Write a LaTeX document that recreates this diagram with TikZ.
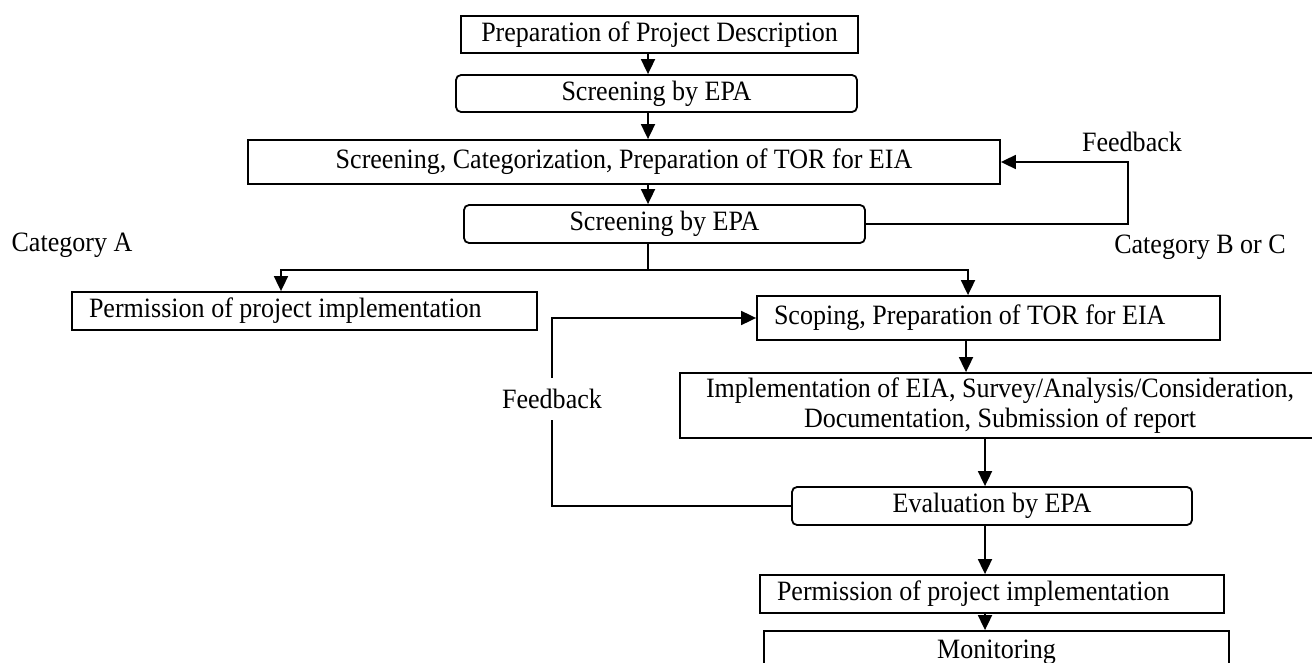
\documentclass[tikz,border=0pt]{standalone}
\usepackage{fontspec}
\setmainfont[FakeStretch=0.93]{Liberation Serif}
\usetikzlibrary{arrows.meta}
\tikzset{
  every node/.style={font=\fontsize{28}{30}\selectfont},
  boxc/.style={draw, line width=1.8pt, rectangle, inner sep=0pt, align=center},
  boxr/.style={boxc, rounded corners=5pt},
  boxl/.style={draw, line width=1.8pt, rectangle, inner ysep=0pt, inner xsep=17pt, align=flush left},
  conn/.style={line width=1.8pt},
  arr/.style={conn, -{Triangle[length=15pt,width=14pt]}},
  arrb/.style={conn, {Triangle[length=15pt,width=14pt]}-{Triangle[length=15pt,width=14pt]}},
  lbl/.style={inner sep=0pt}
}
\begin{document}
\begin{tikzpicture}[x=1pt,y=-1pt]
\useasboundingbox (0,0) rectangle (1312,663);
\fill[white] (0,0) rectangle (1312,663);
\clip (0,0) rectangle (1312,663);

% axes for connectors
\coordinate (ax1) at (648,0);
\coordinate (ax2) at (966,0);
\coordinate (ax3) at (985,0);
\coordinate (fbR) at (1128,0);
\coordinate (fbL) at (552,0);
\coordinate (br) at (648,270);
\coordinate (brL) at (281,270);
\coordinate (brR) at (968,270);

% boxes
\node[boxc, minimum width=397pt, minimum height=37pt] (p1) at (659.5,34.5) {Preparation of Project Description};
\node[boxr, minimum width=401pt, minimum height=37pt] (s1) at (656.5,93.5) {Screening by EPA};
\node[boxc, minimum width=752pt, minimum height=44pt] (sc) at (624,162) {Screening, Categorization, Preparation of TOR for EIA};
\node[boxr, minimum width=401pt, minimum height=38pt] (s2) at (664.5,224) {Screening by EPA};
\node[boxl, text width=431pt, minimum height=38pt] (pA) at (304.5,311) {Permission of project implementation};
\node[boxl, text width=429pt, minimum height=44pt] (sp) at (988.5,318) {Scoping, Preparation of TOR for EIA};
\node[boxc, minimum width=640pt, minimum height=65pt] (im) at (1000,405.5) {Implementation of EIA, Survey/Analysis/Consideration,\\Documentation, Submission of report};
\node[boxr, minimum width=400pt, minimum height=38pt] (ev) at (992,506) {Evaluation by EPA};
\node[boxl, text width=430pt, minimum height=38pt] (pB) at (992,594) {Permission of project implementation};
\node[boxc, minimum width=465pt, minimum height=42pt] (mo) at (996.5,652) {Monitoring};

% labels
\node[lbl] (fbtop) at (1132,142) {Feedback};
\node[lbl] (catA) at (72,245) {Category A};
\node[lbl] (catB) at (1200,247) {Category B or C};

% connectors
\draw[arr] (p1.south -| ax1) -- (s1.north -| ax1);
\draw[arr] (s1.south -| ax1) -- (sc.north -| ax1);
\draw[arr] (sc.south -| ax1) -- (s2.north -| ax1);
\draw[arr] (s2.east) -- (s2.east -| fbR) -- (sc.east -| fbR) -- (sc.east);
\draw[conn] (s2.south -| br) -- (br);
\draw[arrb] (pA.north -| brL) -- (brL) -- (brR) -- (sp.north -| brR);
\draw[arr] (sp.south -| ax2) -- (im.north -| ax2);
\draw[arr] (im.south -| ax3) -- (ev.north -| ax3);
\draw[arr] (ev.south -| ax3) -- (pB.north -| ax3);
\draw[arr] (pB.south -| ax3) -- (mo.north -| ax3);
\draw[arr] (ev.west) -- (ev.west -| fbL) -- (sp.west -| fbL) -- (sp.west);
\node[fill=white, inner xsep=2pt, inner ysep=11pt] (fbleft) at (552,399) {Feedback};
\end{tikzpicture}
\end{document}
